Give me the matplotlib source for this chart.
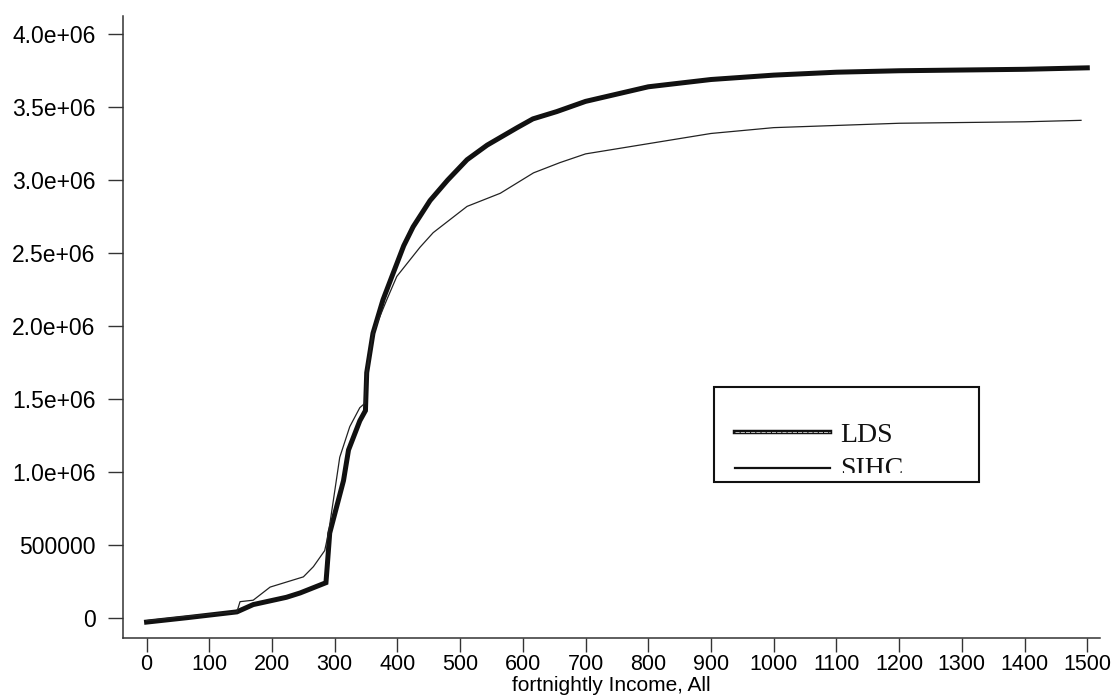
import matplotlib
matplotlib.use("Agg")
import matplotlib.pyplot as plt
from matplotlib.patches import Rectangle
from matplotlib.lines import Line2D

# cumulative counts (millions)
lds_x = [0, 64, 144, 170, 223, 245, 286, 288, 292, 314, 322, 340, 349, 351, 361, 377, 393, 410,
         425, 452, 480, 511, 543, 591, 616, 654, 700, 800, 900, 1000, 1100, 1200, 1300, 1400, 1500]
lds_y = [-0.03, 0.0, 0.04, 0.09, 0.14, 0.17, 0.24, 0.35, 0.58, 0.94, 1.15, 1.35, 1.42, 1.68, 1.95,
         2.18, 2.36, 2.55, 2.68, 2.86, 3.0, 3.14, 3.24, 3.36, 3.42, 3.47, 3.54, 3.64, 3.69, 3.72,
         3.74, 3.75, 3.755, 3.76, 3.77]

sihc_x = [0, 64, 144, 149, 170, 197, 250, 266, 284, 290, 298, 308, 324, 340, 348, 351, 361, 383,
          399, 436, 457, 511, 564, 617, 659, 700, 800, 900, 1000, 1100, 1200, 1300, 1400, 1490]
sihc_y = [-0.02, 0.01, 0.04, 0.11, 0.12, 0.21, 0.28, 0.35, 0.46, 0.58, 0.81, 1.10, 1.31, 1.44,
          1.47, 1.68, 1.95, 2.18, 2.34, 2.54, 2.64, 2.82, 2.91, 3.05, 3.12, 3.18, 3.25, 3.32, 3.36,
          3.375, 3.39, 3.395, 3.40, 3.41]

yticks = [0, 0.5, 1.0, 1.5, 2.0, 2.5, 3.0, 3.5, 4.0]
ylabels = ["0", "500000", "1.0e+06", "1.5e+06", "2.0e+06", "2.5e+06", "3.0e+06", "3.5e+06", "4.0e+06"]
xticks = list(range(0, 1600, 100))

plt.rcParams["font.family"] = ["Liberation Sans", "DejaVu Sans"]

fig = plt.figure(figsize=(11.2, 6.98), dpi=100)
ax = fig.add_axes([0.1096, 0.0864, 0.8724, 0.8906])

ink = "#111111"
ax.plot(lds_x, [v * 1e6 for v in lds_y], color=ink, lw=3.6, solid_joinstyle="miter")
ax.plot(sihc_x, [v * 1e6 for v in sihc_y], color="#222222", lw=0.9)

ax.set_xlim(-38, 1520)
ax.set_ylim(-0.137e6, 4.125e6)
ax.set_xticks(xticks)
ax.set_xticklabels([str(t) for t in xticks], fontsize=15.5)
ax.set_yticks([v * 1e6 for v in yticks])
ax.set_yticklabels(ylabels, fontsize=16.5)
ax.tick_params(axis="y", length=11, width=1, pad=8.5, color="#333333")
ax.tick_params(axis="x", length=10, width=1, pad=2, color="#333333")
ax.set_xlabel("fortnightly Income, All", fontsize=15, labelpad=0.5)

for s in ["top", "right"]:
    ax.spines[s].set_visible(False)
for s in ["left", "bottom"]:
    ax.spines[s].set_color("#333333")
    ax.spines[s].set_linewidth(1.1)

# hand-drawn legend box, second label clipped by the frame
box = Rectangle((0.6375, 0.3095), 0.2366, 0.1361, transform=fig.transFigure,
                fill=False, edgecolor=ink, lw=1.5)
fig.add_artist(box)
fig.add_artist(Line2D([0.656, 0.741], [0.381, 0.381], transform=fig.transFigure, color=ink, lw=3.2))
fig.add_artist(Line2D([0.656, 0.741], [0.381, 0.381], transform=fig.transFigure, color="white",
                      lw=0.5, ls=(0, (6, 1.5))))
fig.add_artist(Line2D([0.656, 0.741], [0.3295, 0.3295], transform=fig.transFigure, color=ink, lw=1.6))
t1 = fig.text(0.750, 0.3668, "LDS", fontsize=20, family=["Liberation Serif"], color=ink)
t2 = fig.text(0.750, 0.3175, "SIHC", fontsize=20, family=["Liberation Serif"], color=ink)
clip = Rectangle((0.6375, 0.3223), 0.2366, 0.12, transform=fig.transFigure)
t2.set_clip_path(clip)

fig.savefig("out.png", dpi=100)
